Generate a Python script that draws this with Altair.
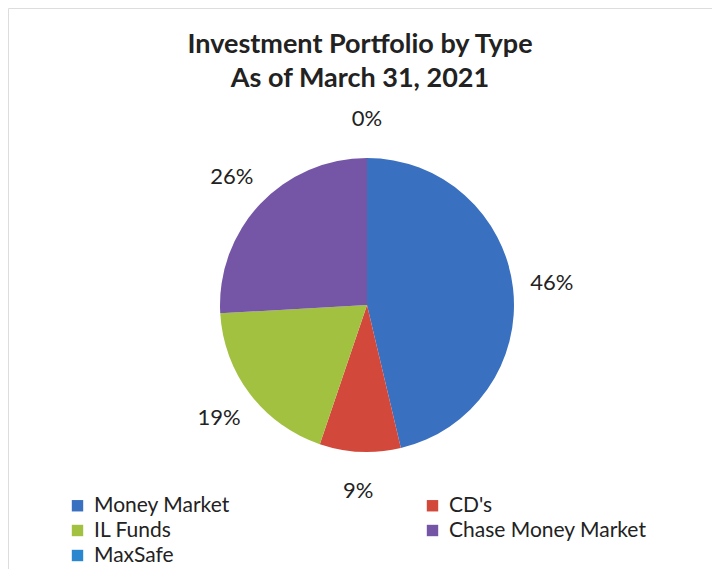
import altair as alt
import pandas as pd

categories = ["Money Market", "CD's", "IL Funds", "Chase Money Market", "MaxSafe"]
shares = [46.3, 8.9, 18.9, 25.9, 0.0]
labels = ["46%", "9%", "19%", "26%", "0%"]
colors = ["#3A70C0", "#D2493C", "#A2C140", "#7556A6", "#2A86CF"]

# legend is laid out column by column, so list the entries in that order
legend_order = ["Money Market", "IL Funds", "MaxSafe", "CD's", "Chase Money Market"]
legend_colors = [colors[categories.index(c)] for c in legend_order]

df = pd.DataFrame({
    "type": categories,
    "share": shares,
    "label": labels,
    "idx": list(range(len(categories))),
})

FONT = "Lato"
CX, CY = 359, 297

base = alt.Chart(df).encode(
    theta=alt.Theta("share:Q", stack=True),
    order=alt.Order("idx:Q"),
)

pie = base.mark_arc(radius=147, stroke=None).encode(
    x=alt.value(CX),
    y=alt.value(CY),
    color=alt.Color(
        "type:N",
        scale=alt.Scale(domain=legend_order, range=legend_colors),
        legend=alt.Legend(
            title=None,
            orient="none",
            legendX=59,
            legendY=487,
            columns=2,
            columnPadding=192,
            rowPadding=3,
            symbolType="square",
            symbolSize=130,
            symbolStrokeWidth=0,
            labelFontSize=21,
            labelFont=FONT,
            labelColor="#222222",
            labelOffset=6,
            labelLimit=400,
        ),
    ),
)

text = base.mark_text(radius=186, fontSize=22, font=FONT, color="#222222").encode(
    x=alt.value(CX),
    y=alt.value(CY),
    text="label:N",
)

chart = (
    alt.layer(pie, text)
    .properties(
        width=704,
        height=561,
        autosize=alt.AutoSizeParams(type="none"),
        padding=0,
        title=alt.TitleParams(
            text=["Investment Portfolio by Type", "As of March 31, 2021"],
            font=FONT,
            fontSize=27,
            fontWeight="bold",
            color="#222222",
            anchor="middle",
            baseline="top",
            lineHeight=34,
            dy=89,
        ),
    )
    .configure_view(stroke="#9a9a9a", strokeWidth=2)
    .configure(background="white")
)

chart.save("out.html", embed_options={"renderer": "svg", "actions": False})
